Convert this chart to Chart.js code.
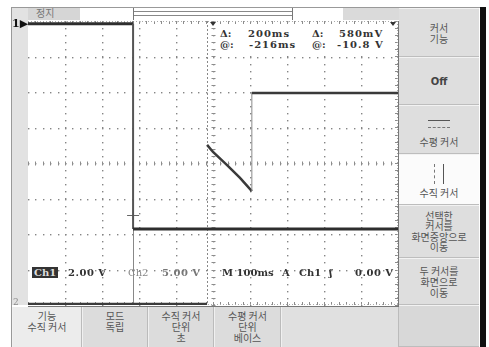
<!DOCTYPE html>
<html>
<head>
<meta charset="utf-8">
<script src="https://cdn.jsdelivr.net/npm/chart.js@4.4.1/dist/chart.umd.min.js"></script>
<style>
  body { margin: 0; background: #fff; width: 489px; height: 347px; overflow: hidden; position: relative;
         font-family: "Noto Sans CJK KR", "DejaVu Sans", sans-serif; }
  #scope { position: absolute; left: 0; top: 0; }
  .abs { position: absolute; }
  .ro { position: absolute; font-family: "DejaVu Serif", "DejaVu Sans", serif; font-weight: bold; font-size: 10px; color: #333; white-space: pre; line-height: 11px; }
  .kr { font-family: "Noto Sans CJK KR", sans-serif; font-size: 10px; color: #555; line-height: 11px; text-align: center; white-space: pre; }
  .side { position: absolute; left: 399px; width: 80px; background: #dedede; border-top: 1px solid #f2f2f2; border-bottom: 1px solid #bdbdbd; box-sizing: border-box; display: flex; align-items: center; justify-content: center; }
  .bot { position: absolute; top: 307px; height: 40px; background: #dcdcdc; border-left: 1px solid #f0f0f0; border-right: 1px solid #bbb; box-sizing: border-box; display: flex; justify-content: center; padding-top: 3px; }
</style>
</head>
<body>
<div class="abs" style="left:11px;top:7px;width:469px;height:1px;background:#999"></div>
<div class="abs" style="left:11px;top:7px;width:1px;height:340px;background:#999"></div>
<div class="abs" style="left:12px;top:8px;width:16px;height:297px;background:#e2e2e2"></div>
<!-- top status bar -->
<div class="abs" style="left:28px;top:8px;width:52px;height:12px;background:#d6d6d6"></div>
<div class="kr abs" style="left:36px;top:7px;color:#777">정지</div>
<div class="abs" style="left:133px;top:11px;width:160px;height:1px;background:#888"></div>
<div class="abs" style="left:133px;top:15px;width:160px;height:1px;background:#888"></div>
<div class="abs" style="left:133px;top:8px;width:1px;height:12px;background:#777"></div>
<div class="abs" style="left:292px;top:8px;width:1px;height:12px;background:#777"></div>
<div class="abs" style="left:343px;top:8px;width:56px;height:12px;background:#dadada"></div>
<!-- black bar right -->
<div class="abs" style="left:480px;top:7px;width:6px;height:340px;background:#111"></div>

<canvas id="scope" width="489" height="347"></canvas>

<!-- channel markers -->
<div class="ro" style="left:12px;top:18px;font-size:11px;color:#111">1▶</div>
<div class="ro" style="left:13px;top:297px;font-size:9px;color:#888;font-weight:normal">2</div>

<!-- cursor readout -->
<div class="abs" style="left:217px;top:26px;width:178px;height:27px;background:#fff"></div>
<div class="ro" style="left:220px;top:28px">Δ:</div>
<div class="ro" style="left:248px;top:28px;letter-spacing:1px">200ms</div>
<div class="ro" style="left:312px;top:28px">Δ:</div>
<div class="ro" style="left:339px;top:28px;letter-spacing:1px">580mV</div>
<div class="ro" style="left:220px;top:39px">@:</div>
<div class="ro" style="left:249px;top:39px;letter-spacing:1px">-216ms</div>
<div class="ro" style="left:312px;top:39px">@:</div>
<div class="ro" style="left:337px;top:39px;letter-spacing:1px">-10.8 V</div>

<!-- bottom readout -->
<div class="ro" style="left:32px;top:267px;background:#333;color:#ddd;padding:0 2px">Ch1</div>
<div class="ro" style="left:68px;top:267px;letter-spacing:0.5px">2.00 V</div>
<div class="ro" style="left:128px;top:267px;color:#888;font-weight:normal">Ch2</div>
<div class="ro" style="left:162px;top:267px;color:#777;letter-spacing:0.5px">5.00 V</div>
<div class="ro" style="left:222px;top:267px">M 100ms</div>
<div class="ro" style="left:282px;top:267px">A</div>
<div class="ro" style="left:299px;top:267px">Ch1</div>
<div class="ro" style="left:329px;top:267px">ʃ</div>
<div class="ro" style="left:355px;top:267px;letter-spacing:0.5px">0.00 V</div>

<!-- side menu -->
<div class="side" style="top:8px;height:49px"><div class="kr">커서
기능</div></div>
<div class="side" style="top:57px;height:48px"><div class="ro" style="position:static;color:#444;font-family:'DejaVu Sans'">Off</div></div>
<div class="side" style="top:105px;height:49px;flex-direction:column">
  <div style="width:22px;height:1px;background:#555;margin-top:8px"></div>
  <div style="width:22px;height:0;border-top:1px dashed #777;margin-top:6px"></div>
  <div class="kr" style="margin-top:8px">수평 커서</div>
</div>
<div class="side" style="top:154px;height:51px;background:#fbfbfb;flex-direction:column">
  <div style="display:flex;gap:8px;height:20px;margin-top:2px">
    <div style="width:0;height:20px;border-left:1px dashed #777"></div>
    <div style="width:1px;height:20px;background:#555"></div>
  </div>
  <div class="kr" style="margin-top:3px">수직 커서</div>
</div>
<div class="side" style="top:205px;height:53px"><div class="kr" style="line-height:10.5px">선택한
커서를
화면중앙으로
이동</div></div>
<div class="side" style="top:258px;height:47px"><div class="kr">두 커서를
화면으로
이동</div></div>
<div class="side" style="top:305px;height:42px;background:#d8d8d8"></div>

<!-- bottom menu -->
<div class="bot" style="left:12px;width:70px;background:#ececec"><div class="kr">기능
수직 커서</div></div>
<div class="bot" style="left:82px;width:66px"><div class="kr">모드
독립</div></div>
<div class="bot" style="left:148px;width:66px"><div class="kr">수직 커서
단위
초</div></div>
<div class="bot" style="left:214px;width:67px"><div class="kr">수평 커서
단위
베이스</div></div>
<div class="bot" style="left:281px;width:118px;background:#e0e0e0"></div>

<script>
// 100 ms per division, 10 divisions; vertical in divisions (8 divisions)
const timeRange = [-500, 500];
const divRange = [-4, 4];

const ch1Time = [-500, -216, -216, 500];
const ch1Div = [3.92, 3.92, -1.86, -1.86];

const ch2Time = [-500, -16, -16, -16, 0, 38, 73, 105, 105, 500];
const ch2Div = [-3.97, -3.97, null, 0.51, 0.31, -0.06, -0.42, -0.79, 1.97, 1.97];

const cursorTimes = [-216, -16];
const crossMark = { t: -216, v: -1.46 };
const triggerLevel = 1.97;

function toPoints(xs, ys) {
    return xs.map((x, i) => ({ x: x, y: ys[i] }));
}

const scopeGrid = {
    id: 'scopeGrid',
    beforeDatasetsDraw(chart) {
        const { ctx, chartArea: a, scales: { x, y } } = chart;
        ctx.save();
        ctx.fillStyle = '#858585';
        // dotted division lines
        for (let t = timeRange[0] + 100; t < timeRange[1]; t += 100) {
            const px = Math.round(x.getPixelForValue(t));
            for (let v = divRange[0]; v <= divRange[1] + 0.001; v += 0.2) {
                ctx.fillRect(px, Math.round(y.getPixelForValue(v)), 1.4, 1.4);
            }
        }
        for (let d = divRange[0] + 1; d < divRange[1]; d++) {
            const py = Math.round(y.getPixelForValue(d));
            for (let t = timeRange[0]; t <= timeRange[1]; t += 20) {
                ctx.fillRect(Math.round(x.getPixelForValue(t)), py, 1.4, 1.4);
            }
        }
        // centre axes with minor ticks
        ctx.strokeStyle = '#8c8c8c';
        ctx.lineWidth = 1;
        const cx = Math.round(x.getPixelForValue(0)) + 0.5;
        const cy = Math.round(y.getPixelForValue(0)) + 0.5;
        ctx.beginPath();
        for (let t = timeRange[0]; t <= timeRange[1]; t += 20) {
            const px = Math.round(x.getPixelForValue(t)) + 0.5;
            ctx.moveTo(px, cy - 2); ctx.lineTo(px, cy + 2);
            ctx.moveTo(px, a.top); ctx.lineTo(px, a.top + 3);
            ctx.moveTo(px, a.bottom); ctx.lineTo(px, a.bottom - 3);
        }
        for (let v = divRange[0]; v <= divRange[1] + 0.001; v += 0.2) {
            const py = Math.round(y.getPixelForValue(v)) + 0.5;
            ctx.moveTo(cx - 2, py); ctx.lineTo(cx + 2, py);
            ctx.moveTo(a.right, py); ctx.lineTo(a.right - 3, py);
        }
        ctx.stroke();
        // frame
        ctx.strokeStyle = '#aaa';
        ctx.setLineDash([1, 2]);
        ctx.beginPath();
        ctx.moveTo(a.left, a.top + 0.5); ctx.lineTo(a.right, a.top + 0.5);
        ctx.moveTo(a.right - 0.5, a.top); ctx.lineTo(a.right - 0.5, a.bottom);
        ctx.moveTo(a.left, a.bottom - 0.5); ctx.lineTo(a.right, a.bottom - 0.5);
        ctx.stroke();
        ctx.setLineDash([]);
        ctx.strokeStyle = '#777';
        ctx.beginPath();
        ctx.moveTo(a.right + 0.5, a.top); ctx.lineTo(a.right + 0.5, a.bottom + 2);
        ctx.moveTo(a.left, a.bottom + 1.5); ctx.lineTo(a.right + 1, a.bottom + 1.5);
        ctx.stroke();
        // cursors
        cursorTimes.forEach((t, i) => {
            const px = Math.round(x.getPixelForValue(t)) + 0.5;
            ctx.strokeStyle = '#888';
            ctx.setLineDash(i === 0 ? [] : [2, 2]);
            ctx.beginPath();
            ctx.moveTo(px, a.top); ctx.lineTo(px, a.bottom);
            ctx.stroke();
        });
        ctx.setLineDash([]);
        // small cross mark on cursor 1
        const mx = x.getPixelForValue(crossMark.t), my = Math.round(y.getPixelForValue(crossMark.v)) + 0.5;
        ctx.strokeStyle = '#666';
        ctx.beginPath();
        ctx.moveTo(mx - 6, my); ctx.lineTo(mx + 6, my);
        ctx.stroke();
        // trigger markers
        ctx.fillStyle = '#333';
        const tx = x.getPixelForValue(0);
        ctx.beginPath();
        ctx.moveTo(tx - 3, a.top + 1); ctx.lineTo(tx + 3, a.top + 1); ctx.lineTo(tx, a.top + 5);
        ctx.fill();
        ctx.beginPath();
        ctx.moveTo(a.right - 8, a.top + 1); ctx.lineTo(a.right - 2, a.top + 1); ctx.lineTo(a.right - 5, a.top + 5);
        ctx.fill();
        const ty = y.getPixelForValue(triggerLevel);
        ctx.fillRect(a.right - 4, ty - 1, 4, 2);
        ctx.restore();
    }
};

document.addEventListener('DOMContentLoaded', function () {
    const ctx = document.getElementById('scope').getContext('2d');
    new Chart(ctx, {
        type: 'scatter',
        data: {
            datasets: [{
                label: 'Ch1',
                data: toPoints(ch1Time, ch1Div),
                showLine: true,
                borderColor: '#2e2e2e',
                borderWidth: 3,
                pointRadius: 0,
                segment: {
                    borderColor: c => c.p0.parsed.x === c.p1.parsed.x ? '#555' : undefined,
                    borderWidth: c => c.p0.parsed.x === c.p1.parsed.x ? 2 : undefined
                }
            }, {
                label: 'Ch2',
                data: toPoints(ch2Time, ch2Div),
                showLine: true,
                spanGaps: false,
                borderColor: '#3a3a3a',
                borderWidth: 2.5,
                pointRadius: 0,
                segment: {
                    borderColor: c => c.p0.parsed.x === c.p1.parsed.x ? '#8a8a8a' : undefined,
                    borderWidth: c => c.p0.parsed.x === c.p1.parsed.x ? 1 : undefined
                }
            }]
        },
        options: {
            responsive: false,
            animation: false,
            layout: { padding: { left: 28, right: 91, top: 21, bottom: 42 } },
            plugins: { legend: { display: false }, tooltip: { enabled: false } },
            scales: {
                x: { type: 'linear', min: timeRange[0], max: timeRange[1], display: false },
                y: { type: 'linear', min: divRange[0], max: divRange[1], display: false }
            }
        },
        plugins: [scopeGrid]
    });
});
</script>
</body>
</html>
